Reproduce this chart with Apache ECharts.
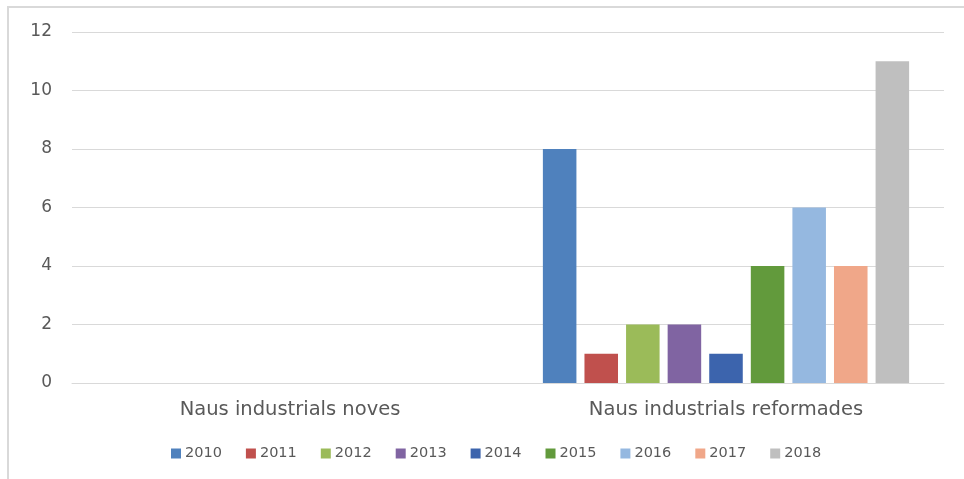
<!DOCTYPE html>
<html>
<head>
<meta charset="utf-8">
<script src="https://cdn.jsdelivr.net/npm/echarts@6/dist/echarts.min.js"></script>
<style>
  html, body { margin: 0; padding: 0; background: #fff; }
  #chart { width: 964px; height: 479px; }
</style>
</head>
<body>
<div id="chart"></div>
<script>
// categories and series values
var categories = ["Naus industrials noves", "Naus industrials reformades"];
var years = ["2010", "2011", "2012", "2013", "2014", "2015", "2016", "2017", "2018"];
var noves = [0, 0, 0, 0, 0, 0, 0, 0, 0];
var reformades = [8, 1, 2, 2, 1, 4, 6, 4, 11];
var yTicks = [0, 2, 4, 6, 8, 10, 12];
var colors = ["#4F81BD", "#C0504D", "#9BBB59", "#8064A2", "#3C64AD", "#629A3C", "#95B8E0", "#F0A789", "#BFBFBF"];

var chart = echarts.init(document.getElementById("chart"));

var series = years.map(function (y, i) {
  return {
    name: y,
    type: "bar",
    data: [noves[i], reformades[i]],
    barGap: "24%",
    barCategoryGap: "16%",
    itemStyle: { color: colors[i] }
  };
});

chart.setOption({
  animation: false,
  color: colors,
  textStyle: { fontFamily: "DejaVu Sans, sans-serif" },
  grid: { left: 72, right: 20, top: 32, bottom: 96 },
  graphic: [
    { type: "line", shape: { x1: 7, y1: 7, x2: 964, y2: 7 }, style: { stroke: "#D9D9D9", lineWidth: 2 } },
    { type: "line", shape: { x1: 8, y1: 6, x2: 8, y2: 479 }, style: { stroke: "#D9D9D9", lineWidth: 2 } }
  ],
  legend: {
    data: years,
    bottom: 13,
    left: 166,
    itemWidth: 10,
    itemHeight: 10,
    itemGap: 24,
    icon: "rect",
    textStyle: { color: "#595959", fontSize: 14.5, padding: [0, 0, 0, -1] }
  },
  xAxis: {
    type: "category",
    data: categories,
    axisTick: { show: false },
    axisLine: { lineStyle: { color: "#D9D9D9" } },
    axisLabel: { color: "#595959", fontSize: 19.5, margin: 17 }
  },
  yAxis: {
    type: "value",
    min: yTicks[0],
    max: yTicks[yTicks.length - 1],
    interval: 2,
    axisLine: { show: false },
    axisTick: { show: false },
    axisLabel: { color: "#595959", fontSize: 17, margin: 20 },
    splitLine: { lineStyle: { color: "#D9D9D9" } }
  },
  series: series
});
</script>
</body>
</html>
